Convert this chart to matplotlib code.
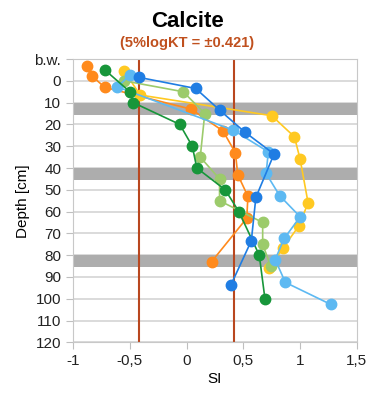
import matplotlib
matplotlib.use("Agg")
import matplotlib.pyplot as plt

plt.rcParams['font.family'] = ['Liberation Sans', 'DejaVu Sans']

# Данные: SI по глубине, серии по цветам
orange_d = [-7, -2, 3, 13, 23, 33, 43, 53, 63, 83]
orange_si = [-0.88, -0.83, -0.72, 0.04, 0.32, 0.43, 0.45, 0.54, 0.53, 0.22]

yellow_d = [-4.6, 6.5, 16, 25.7, 36, 56, 66.5, 76.6, 86]
yellow_si = [-0.55, -0.41, 0.75, 0.95, 1.0, 1.07, 0.99, 0.85, 0.73]

lgreen_d = [0, 5, 15, 35, 45, 55, 65, 75, 85]
lgreen_si = [-0.55, -0.03, 0.16, 0.12, 0.29, 0.29, 0.67, 0.67, 0.74]

lblue_d = [-2.6, 2.8, 22.6, 32.6, 42.5, 52.7, 62.4, 72.3, 82, 92.5, 102.6]
lblue_si = [-0.50, -0.61, 0.41, 0.72, 0.70, 0.82, 1.0, 0.86, 0.78, 0.87, 1.27]

dgreen_d = [-5, 5, 10, 20, 30, 40, 50, 60, 80, 100]
dgreen_si = [-0.72, -0.50, -0.47, -0.06, 0.05, 0.09, 0.34, 0.46, 0.64, 0.69]

blue_d = [-1.6, 3.5, 13.4, 23.4, 33.6, 53.5, 73.4, 93.7]
blue_si = [-0.42, 0.08, 0.29, 0.51, 0.77, 0.61, 0.57, 0.39]

logkt = 0.421
bands = [(10, 15.5), (40, 45.5), (80, 85.5)]

xticks = [-1, -0.5, 0, 0.5, 1, 1.5]
xlabels = ['-1', '-0,5', '0', '0,5', '1', '1,5']
yticks = [-10, 0, 10, 20, 30, 40, 50, 60, 70, 80, 90, 100, 110, 120]
ylabels = ['b.w.'] + [str(v) for v in yticks[1:]]

fig = plt.figure(figsize=(3.71, 3.99), dpi=100)
ax = fig.add_axes([0.197, 0.142, 0.765, 0.710])

for lo, hi in bands:
    ax.axhspan(lo, hi, color='#ADADAD', lw=0, zorder=1)

ax.axvline(-logkt, color='#B9471F', lw=1.5, zorder=2)
ax.axvline(logkt, color='#B9471F', lw=1.5, zorder=2)

series = [
    (orange_si, orange_d, '#FF8A1C'),
    (yellow_si, yellow_d, '#FFC922'),
    (lgreen_si, lgreen_d, '#9CCB6B'),
    (lblue_si, lblue_d, '#5DB9F2'),
    (dgreen_si, dgreen_d, '#17963A'),
    (blue_si, blue_d, '#1F7DE3'),
]
for si, d, c in series:
    ax.plot(si, d, '-o', color=c, lw=1.2, ms=7.5, zorder=3)

ax.set_xlim(-1, 1.5)
ax.set_ylim(120, -10)
ax.set_xticks(xticks)
ax.set_xticklabels(xlabels)
ax.set_yticks(yticks)
ax.set_yticklabels(ylabels)
ax.yaxis.grid(True, color='#D4D4D4', lw=1.2, zorder=0)
ax.set_axisbelow(True)
for s in ax.spines.values():
    s.set_color('#C8C8C8')
ax.tick_params(axis='both', colors='#BFBFBF', labelcolor='#222222',
               labelsize=11, length=5)

ax.set_xlabel('SI', fontsize=11, labelpad=3)
ax.set_ylabel('Depth [cm]', fontsize=11, labelpad=3)

fig.text(0.505, 0.945, 'Calcite', ha='center', va='center',
         fontsize=16, fontweight='bold')
fig.text(0.505, 0.893, '(5%logKT = \u00b10.421)', ha='center', va='center',
         fontsize=10.5, fontweight='bold', color='#C0501E')

fig.savefig('out.png', dpi=100)
